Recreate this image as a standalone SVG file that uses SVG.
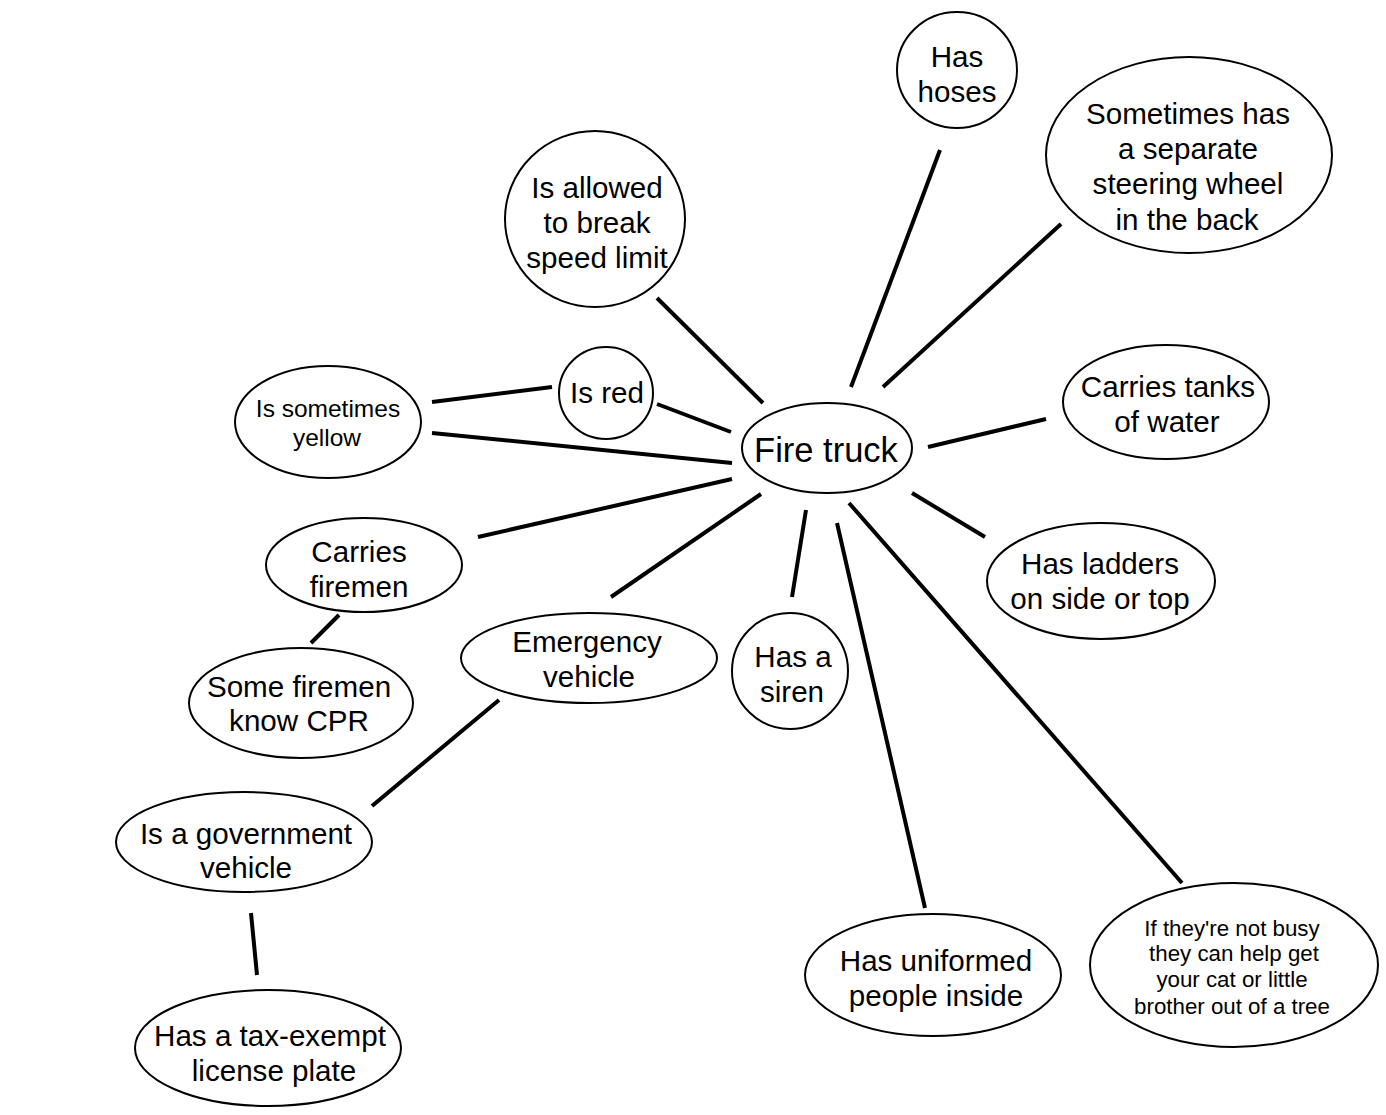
<svg xmlns="http://www.w3.org/2000/svg" width="1386" height="1115" viewBox="0 0 1386 1115">
<style>
.n ellipse{fill:#fff;stroke:#000;stroke-width:2}
.n text{font-family:"Liberation Sans",Arial,sans-serif;font-size:29.6px;fill:#000;text-anchor:middle}
.n text.s{font-size:24.5px}
.n text.xs{font-size:22.3px}
.n text.l{font-size:34.5px}
#edges line{stroke:#000;stroke-width:4;stroke-linecap:butt}
</style>
<rect width="1386" height="1115" fill="#fff"/>
<g id="edges">
<line x1="940" y1="150" x2="851" y2="387"/>
<line x1="1061" y1="224" x2="883" y2="387"/>
<line x1="657" y1="298" x2="763" y2="403"/>
<line x1="657" y1="404" x2="731" y2="432"/>
<line x1="432" y1="402" x2="552" y2="387"/>
<line x1="432" y1="433" x2="732" y2="463"/>
<line x1="928" y1="447" x2="1046" y2="419"/>
<line x1="912" y1="493" x2="985" y2="537"/>
<line x1="478" y1="537" x2="732" y2="479"/>
<line x1="611" y1="597" x2="761" y2="494"/>
<line x1="806" y1="510" x2="792" y2="597"/>
<line x1="837" y1="523" x2="925" y2="908"/>
<line x1="849" y1="503" x2="1182" y2="883"/>
<line x1="339" y1="615" x2="311" y2="643"/>
<line x1="499" y1="700" x2="372" y2="806"/>
<line x1="251" y1="913" x2="257" y2="975"/>
</g>
<g id="hoses" class="n"><ellipse cx="957" cy="70" rx="60" ry="58"/><text x="957" y="67">Has</text><text x="957" y="102">hoses</text></g>
<g id="steering" class="n"><ellipse cx="1189" cy="155" rx="143" ry="98"/><text x="1188" y="124">Sometimes has</text><text x="1188" y="159">a separate</text><text x="1188" y="194">steering wheel</text><text x="1187" y="230">in the back</text></g>
<g id="speed" class="n"><ellipse cx="595" cy="219" rx="90" ry="88"/><text x="597" y="198">Is allowed</text><text x="597" y="233">to break</text><text x="597" y="268">speed limit</text></g>
<g id="red" class="n"><ellipse cx="606" cy="393" rx="47" ry="46"/><text x="607" y="403">Is red</text></g>
<g id="yellow" class="n"><ellipse cx="328" cy="422" rx="93" ry="56"/><text class="s" x="328" y="417">Is sometimes</text><text class="s" x="327" y="446">yellow</text></g>
<g id="firetruck" class="n"><ellipse cx="827" cy="448" rx="85" ry="45"/><text class="l" x="826" y="462">Fire truck</text></g>
<g id="tanks" class="n"><ellipse cx="1166" cy="402" rx="103" ry="57"/><text x="1168" y="397">Carries tanks</text><text x="1167" y="432">of water</text></g>
<g id="ladders" class="n"><ellipse cx="1101" cy="581" rx="114" ry="58"/><text x="1100" y="574">Has ladders</text><text x="1100" y="609">on side or top</text></g>
<g id="firemen" class="n"><ellipse cx="364" cy="565" rx="98" ry="47"/><text x="359" y="562">Carries</text><text x="359" y="597">firemen</text></g>
<g id="emergency" class="n"><ellipse cx="589" cy="658" rx="128" ry="45"/><text x="587" y="652">Emergency</text><text x="589" y="687">vehicle</text></g>
<g id="siren" class="n"><ellipse cx="790" cy="671" rx="58" ry="58"/><text x="793" y="667">Has a</text><text x="792" y="702">siren</text></g>
<g id="cpr" class="n"><ellipse cx="301" cy="703" rx="112" ry="55"/><text x="299" y="697">Some firemen</text><text x="299" y="731">know CPR</text></g>
<g id="government" class="n"><ellipse cx="244" cy="842" rx="128" ry="50"/><text x="246" y="844">Is a government</text><text x="246" y="878">vehicle</text></g>
<g id="taxexempt" class="n"><ellipse cx="268" cy="1048" rx="133" ry="58"/><text x="270" y="1046">Has a tax-exempt</text><text x="274" y="1081">license plate</text></g>
<g id="uniformed" class="n"><ellipse cx="933" cy="975" rx="128" ry="61"/><text x="936" y="971">Has uniformed</text><text x="936" y="1006">people inside</text></g>
<g id="tree" class="n"><ellipse cx="1234" cy="965" rx="144" ry="82"/><text class="xs" x="1232" y="936">If they're not busy</text><text class="xs" x="1234" y="961">they can help get</text><text class="xs" x="1232" y="987">your cat or little</text><text class="xs" x="1232" y="1014">brother out of a tree</text></g>
</svg>
